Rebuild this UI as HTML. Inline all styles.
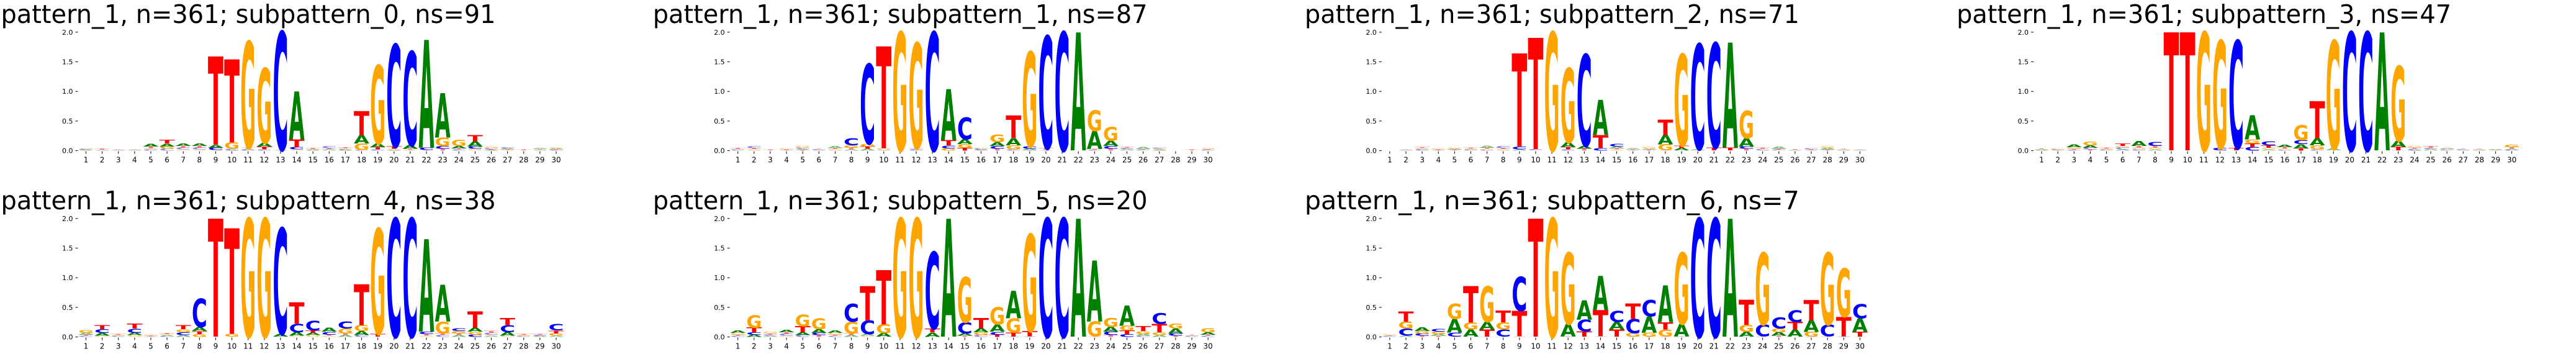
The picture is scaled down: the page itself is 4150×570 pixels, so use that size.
<!DOCTYPE html>
<html><head><meta charset="utf-8">
<style>
html,body{margin:0;padding:0;background:#fff;width:4150px;height:570px;overflow:hidden;}
svg{display:block;}
</style></head>
<body>
<svg id="chart" width="4150" height="570" viewBox="0 0 4150 570" xmlns="http://www.w3.org/2000/svg" overflow="hidden"></svg>
<script>
const titles = [
 "pattern_1, n=361; subpattern_0, ns=91",
 "pattern_1, n=361; subpattern_1, ns=87",
 "pattern_1, n=361; subpattern_2, ns=71",
 "pattern_1, n=361; subpattern_3, ns=47",
 "pattern_1, n=361; subpattern_4, ns=38",
 "pattern_1, n=361; subpattern_5, ns=20",
 "pattern_1, n=361; subpattern_6, ns=7"
];
const positions = [1,2,3,4,5,6,7,8,9,10,11,12,13,14,15,16,17,18,19,20,21,22,23,24,25,26,27,28,29,30];
const yTicks = [0.0,0.5,1.0,1.5,2.0];
const yTickLabels = ["0.0","0.5","1.0","1.5","2.0"];

const A0=[.01,.005,.005,.005,.05,.05,.04,.04,.05,.01,.02,.06,.005,.81,.01,.02,.01,.14,.06,.01,.06,1.82,.75,.04,.09,.01,.02,.002,.02,.02];
const C0=[.01,.005,.005,.005,.02,.03,.03,.03,.04,.02,.01,.02,1.99,.04,.005,.03,.01,.01,.02,1.72,1.58,.04,.05,.02,.04,.02,.02,.002,.005,.01];
const G0=[.01,.005,.005,.005,.02,.04,.02,.02,.01,.11,1.79,1.26,.005,.02,.01,.005,.02,.11,1.32,.02,.01,.005,.14,.10,.03,.03,.01,.002,.01,.02];
const T0=[.005,.02,.005,.005,.03,.06,.03,.03,1.49,1.40,.02,.05,.005,.13,.02,.02,.02,.41,.04,.04,.02,.005,.03,.02,.10,.01,.01,.01,.01,.01];

const A1=[.005,.005,.002,.005,.02,.005,.03,.02,.03,.005,.002,.005,.002,.86,.08,.01,.06,.12,.03,.005,.002,1.99,.30,.09,.02,.03,.01,.002,.002,.005];
const C1=[.01,.03,.002,.005,.02,.01,.005,.12,1.34,.005,.002,.02,1.99,.05,.37,.02,.05,.02,.04,1.89,1.99,.002,.01,.05,.02,.01,.02,.002,.002,.01];
const G1=[.01,.02,.002,.02,.03,.005,.02,.04,.05,.03,1.99,1.77,.002,.04,.06,.02,.13,.07,1.59,.005,.002,.002,.35,.23,.005,.005,.01,.002,.002,.02];
const T1=[.02,.02,.01,.01,.01,.01,.02,.03,.04,1.72,.002,.02,.002,.09,.05,.005,.03,.38,.005,.03,.002,.002,.02,.03,.02,.01,.01,.002,.01,.01];

const A2=[.002,.005,.005,.005,.02,.005,.03,.005,.02,.002,.002,.08,.05,.59,.03,.02,.02,.16,.04,.02,.002,1.77,.14,.005,.03,.005,.005,.03,.005,.005];
const C2=[.002,.005,.02,.005,.005,.01,.01,.03,.05,.02,.002,.02,1.54,.04,.05,.005,.005,.005,.005,1.77,1.76,.002,.04,.02,.01,.005,.02,.005,.005,.005];
const G2=[.002,.005,.02,.02,.02,.02,.02,.02,.002,.002,1.99,1.25,.002,.002,.02,.005,.03,.10,1.54,.002,.002,.002,.46,.005,.005,.005,.005,.03,.01,.005];
const T2=[.002,.005,.02,.01,.01,.02,.02,.02,1.57,1.88,.002,.04,.03,.22,.02,.01,.01,.26,.04,.005,.05,.05,.03,.02,.02,.01,.01,.01,.01,.005];

const A3=[.01,.005,.05,.04,.005,.02,.08,.02,.002,.002,.002,.002,.002,.41,.02,.04,.07,.12,.03,.002,.002,1.99,.10,.01,.02,.02,.005,.005,.01,.02];
const C3=[.005,.01,.01,.03,.01,.03,.02,.07,.002,.002,.002,.04,1.81,.06,.07,.01,.07,.02,.002,1.99,1.99,.002,.005,.02,.02,.01,.01,.005,.005,.01];
const G3=[.01,.02,.03,.06,.02,.03,.03,.03,.002,.002,1.99,1.81,.002,.07,.03,.02,.25,.07,1.82,.002,.002,.002,1.26,.03,.005,.01,.005,.01,.005,.04];
const T3=[.01,.005,.02,.02,.02,.04,.03,.03,1.99,1.99,.002,.002,.04,.06,.04,.03,.04,.63,.002,.002,.002,.002,.06,.02,.03,.005,.01,.01,.005,.03];

const A4=[.03,.05,.005,.04,.005,.02,.03,.07,.002,.002,.002,.002,.05,.06,.04,.07,.03,.07,.002,.002,.002,1.56,.62,.03,.07,.02,.06,.005,.01,.02];
const C4=[.02,.06,.01,.07,.005,.01,.05,.48,.002,.002,.002,.002,1.78,.14,.16,.05,.12,.03,.002,1.99,1.99,.04,.03,.05,.04,.03,.12,.01,.02,.11];
const G4=[.05,.02,.02,.03,.02,.02,.05,.05,.002,.05,1.99,1.99,.002,.02,.03,.02,.08,.10,1.77,.002,.002,.02,.20,.04,.05,.02,.02,.02,.005,.04];
const T4=[.02,.07,.02,.08,.01,.02,.07,.05,1.99,1.78,.002,.002,.002,.36,.04,.02,.03,.69,.05,.002,.002,.03,.03,.03,.27,.03,.12,.02,.02,.05];

const A5=[.04,.04,.02,.04,.05,.06,.04,.03,.03,.06,.002,.002,.07,1.99,.04,.07,.12,.46,.005,.002,.002,1.99,1.03,.08,.34,.03,.03,.08,.005,.04];
const C5=[.02,.04,.02,.03,.03,.04,.02,.30,.23,.005,.002,.002,1.29,.002,.19,.03,.05,.005,.005,1.99,1.99,.002,.005,.06,.05,.02,.18,.04,.01,.02];
const G5=[.03,.21,.03,.02,.20,.18,.03,.20,.02,.15,1.99,1.99,.002,.002,.76,.05,.29,.24,1.63,.002,.002,.002,.25,.15,.08,.05,.05,.08,.01,.07];
const T5=[.02,.08,.02,.03,.10,.03,.02,.03,.58,.91,.002,.002,.07,.002,.02,.17,.04,.07,.09,.002,.002,.002,.005,.03,.06,.08,.14,.02,.01,.02];

const A6=[.005,.02,.06,.03,.23,.12,.13,.005,.005,.002,.002,.21,.33,.58,.13,.005,.27,.62,.21,.002,.002,1.99,.08,.005,.06,.12,.20,.005,.005,.23];
const C6=[.01,.12,.04,.05,.07,.005,.005,.12,.57,.002,.002,.005,.20,.005,.19,.24,.28,.005,.005,1.99,1.99,.002,.005,.20,.19,.20,.005,.20,.005,.24];
const G6=[.02,.12,.04,.04,.26,.12,.60,.12,.005,.002,1.99,1.20,.005,.005,.005,.06,.07,.12,1.20,.002,.002,.002,.12,1.21,.06,.005,.08,1.21,.81,.005];
const T6=[.01,.17,.02,.02,.005,.61,.12,.20,.43,1.99,.002,.005,.09,.44,.12,.26,.005,.12,.005,.002,.002,.002,.42,.005,.02,.13,.34,.005,.33,.08];

const panelA=[A0,A1,A2,A3,A4,A5,A6];
const panelC=[C0,C1,C2,C3,C4,C5,C6];
const panelG=[G0,G1,G2,G3,G4,G5,G6];
const panelT=[T0,T1,T2,T3,T4,T5,T6];

const NS="http://www.w3.org/2000/svg";
const svg=document.getElementById('chart');
const COLORS={A:'#008000',C:'#0000ff',G:'#ffa500',T:'#ff0000'};
const ADV={A:77.4,C:73.4,G:82.1,T:68.2};
const CAP=72.9;
const STEP=26.12;
const LW=25;
const BITPX=95.4;
function mk(tag,attrs){const e=document.createElementNS(NS,tag);for(const k in attrs)e.setAttribute(k,attrs[k]);return e;}

for(let p=0;p<7;p++){
  const row=p<4?0:1, col=p<4?p:p-4;
  const x1=138.5+col*1050.2;
  const y0=row===0?242.6:542.6;
  const xs=i=>x1+(positions[i]-1)*STEP;
  const ys=v=>y0-v*BITPX;
  const g=mk('g',{});
  
  
  svg.appendChild(g);
  const t=mk('text',{x:x1-137,y:row===0?37:337,'font-family':'"DejaVu Sans","Liberation Sans",sans-serif','font-size':41,textLength:797,lengthAdjust:'spacingAndGlyphs',fill:'#000'});
  t.textContent=titles[p];
  
  
  g.appendChild(t);
  yTicks.forEach((v,k)=>{
    const yy=ys(v);
    const tk=mk('line',{x1:x1-17,x2:x1-13,y1:yy,y2:yy,stroke:'#000','stroke-width':1});
    
    
    g.appendChild(tk);
    const lb=mk('text',{x:x1-21,y:yy+4,'text-anchor':'end','font-family':'"DejaVu Sans",sans-serif','font-size':11,fill:'#000'});
    lb.textContent=yTickLabels[k];
    
    
    g.appendChild(lb);
  });
  positions.forEach((pos,i)=>{
    const xx=xs(i);
    const tk=mk('line',{x1:xx,x2:xx,y1:y0+1,y2:y0+5,stroke:'#000','stroke-width':1});
    
    
    g.appendChild(tk);
    const lb=mk('text',{x:xx,y:y0+19,'text-anchor':'middle','font-family':'"DejaVu Sans",sans-serif','font-size':12,fill:'#000'});
    lb.textContent=String(pos);
    
    
    g.appendChild(lb);
  });
  positions.forEach((pos,i)=>{
    const items=[['A',panelA[p][i]],['C',panelC[p][i]],['G',panelG[p][i]],['T',panelT[p][i]]];
    items.sort((a,b)=>a[1]-b[1]);
    let base=0;
    items.forEach(([L,h])=>{
      if(h<=0)return;
      const yb=ys(base), yt=ys(base+h);
      const hp=yb-yt;
      const sx=LW/ADV[L], sy=hp/CAP;
      const xl=xs(i)-LW/2;
      const te=mk('text',{x:0,y:0,'font-family':'"DejaVu Sans","Liberation Sans",sans-serif','font-weight':'bold','font-size':100,fill:COLORS[L],transform:`translate(${xl.toFixed(2)},${yb.toFixed(2)}) scale(${sx.toFixed(4)},${sy.toFixed(4)})`});
      if(h<0.035)te.setAttribute('opacity','0.5');
      te.textContent=L;
      
      
      g.appendChild(te);
      base+=h;
    });
  });
}
</script>
</body></html>
